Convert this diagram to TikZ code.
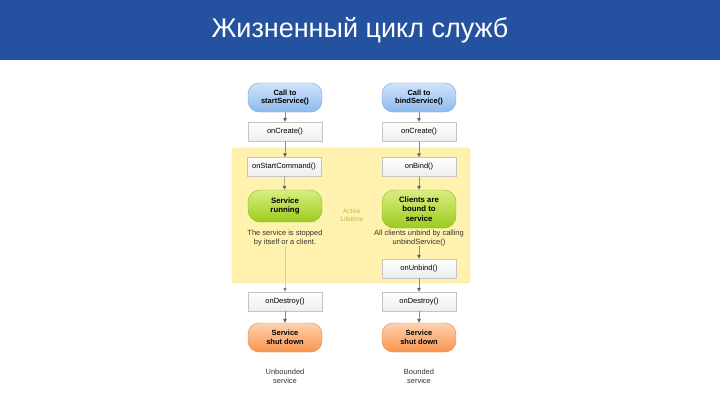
\documentclass[tikz,border=0pt]{standalone}
\usepackage{fontspec}
\setmainfont{Liberation Sans}
\usetikzlibrary{arrows.meta}
\definecolor{hdr}{HTML}{2452A0}
\definecolor{yel}{HTML}{FFF2AE}
\definecolor{yelb}{HTML}{F3E08A}
\definecolor{boxb}{HTML}{C4C4C4}
\definecolor{bluet}{HTML}{CFE3FA}
\definecolor{blueb}{HTML}{8DBAEE}
\definecolor{bluel}{HTML}{7AA6DC}
\definecolor{greent}{HTML}{D8EE80}
\definecolor{greenb}{HTML}{9CCB1E}
\definecolor{greenl}{HTML}{8AB820}
\definecolor{oranget}{HTML}{FFD2B0}
\definecolor{orangeb}{HTML}{F7944C}
\definecolor{orangel}{HTML}{E88A48}
\definecolor{actc}{HTML}{C9B24A}
\tikzset{
  x=1pt,y=-1pt,
  callbox/.style={draw=bluel,top color=bluet,bottom color=blueb,rounded corners=11pt,
    minimum width=74pt,minimum height=29pt,inner sep=1pt,align=center,font=\fontsize{7.5}{8.5}\selectfont\bfseries},
  runbox/.style={draw=greenl,top color=greent,bottom color=greenb,rounded corners=12pt,
    minimum width=74pt,minimum height=32pt,inner sep=1pt,align=center,font=\fontsize{7.8}{9.5}\selectfont\bfseries},
  endbox/.style={draw=orangel,top color=oranget,bottom color=orangeb,rounded corners=11pt,
    minimum width=74pt,minimum height=29pt,inner sep=1pt,align=center,font=\fontsize{7.5}{8.5}\selectfont\bfseries},
  cbbox/.style={draw=boxb,top color=white,bottom color=black!7,
    minimum width=74pt,minimum height=19pt,inner sep=1pt,font=\fontsize{7.5}{8.5}\selectfont},
  note/.style={align=center,font=\fontsize{7.5}{9}\selectfont,text=black!80,inner sep=0pt},
  arr/.style={draw=black!45,line width=0.5pt,-{Triangle[length=4pt,width=4pt,fill=black!75]}},
}
\begin{document}
\begin{tikzpicture}
\useasboundingbox (0,0) rectangle (720,405);
\fill[white] (0,0) rectangle (720,405);
\fill[hdr] (0,0) rectangle (720,60);
\node[text=white,font=\fontsize{27}{30}\selectfont] (title) at (360,30) {Жизненный цикл служб};
% active region
\draw[fill=yel,draw=yelb,rounded corners=3pt] (232,148) rectangle (470,283);
\node[font=\fontsize{6.5}{7.5}\selectfont,text=actc,align=center] (act) at (352,215) {Active\\Lifetime};
% left column
\node[callbox] (c1) at (285,97.5) {Call to\\startService()};
\node[cbbox] (oc1) at (285,131.5) {onCreate()};
\node[cbbox] (osc) at (284,167) {onStartCommand()};
\node[runbox] (run) at (285,206) {Service\\running};
\node[note] (n1) at (285,238) {The service is stopped\\by itself or a client.};
\node[cbbox] (od1) at (285,301.5) {onDestroy()};
\node[endbox] (sd1) at (285,337.5) {Service\\shut down};
\node[note] (u1) at (285,376) {Unbounded\\service};
% right column
\node[callbox] (c2) at (419,97.5) {Call to\\bindService()};
\node[cbbox] (oc2) at (419,131.5) {onCreate()};
\node[cbbox] (ob) at (419,167) {onBind()};
\node[runbox,minimum height=38pt] (bnd) at (419,209) {Clients are\\bound to\\service};
\node[note] (n2) at (419,238) {All clients unbind by calling\\unbindService()};
\node[cbbox] (ou) at (419,268.5) {onUnbind()};
\node[cbbox] (od2) at (419,301.5) {onDestroy()};
\node[endbox] (sd2) at (419,337.5) {Service\\shut down};
\node[note] (u2) at (419,376) {Bounded\\service};
% arrows
\draw[arr] (c1) -- (oc1);
\draw[arr] (oc1) -- (oc1 |- osc.north);
\draw[arr] (osc) -- (run);
\draw[draw=black!20,line width=0.4pt] (n1.south) -- (n1.south |- od1.north);
\draw[arr,draw=black!20] (n1.south |- 0,285) -- (n1.south |- od1.north);
\draw[arr] (od1) -- (sd1);
\draw[arr] (c2) -- (oc2);
\draw[arr] (oc2) -- (ob);
\draw[arr] (ob) -- (bnd);
\draw[arr] (n2) -- (ou);
\draw[arr] (ou) -- (od2);
\draw[arr] (od2) -- (sd2);
\end{tikzpicture}
\end{document}
